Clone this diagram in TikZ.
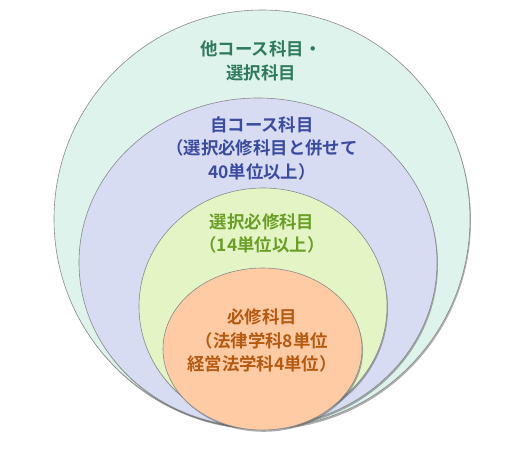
\documentclass[tikz,border=0pt]{standalone}
\usepackage{fontspec}
\setmainfont{Noto Sans CJK JP}[BoldFont={Noto Sans CJK JP Bold}]
\usetikzlibrary{shadows}
\definecolor{fillA}{HTML}{DDF3EC}
\definecolor{fillB}{HTML}{D7DCF2}
\definecolor{fillC}{HTML}{E3F5C5}
\definecolor{fillD}{HTML}{FFCBA4}
\definecolor{txtA}{HTML}{2E7B5C}
\definecolor{txtB}{HTML}{3B4CA0}
\definecolor{txtC}{HTML}{6A9E26}
\definecolor{txtD}{HTML}{B65A12}
\definecolor{edge}{HTML}{8A8A8A}
\tikzset{
  ring/.style={draw=edge, line width=0.6pt, drop shadow={shadow xshift=1pt, shadow yshift=-1.8pt, opacity=0.45, fill=black!70}},
  lbl/.style={font=\fontsize{17.4}{23.5}\selectfont\bfseries, align=center, inner sep=0pt}
}
\begin{document}
\begin{tikzpicture}[x=1pt,y=-1pt]
\useasboundingbox (0,0) rectangle (524,462);
\path[ring, fill=fillA] (262,219) ellipse [x radius=208, y radius=209];
\path[ring, fill=fillB] (258,262.5) ellipse [x radius=179, y radius=164.5];
\path[ring, fill=fillC] (263,306.5) ellipse [x radius=124, y radius=118.5];
\path[ring, fill=fillD] (262.5,349) ellipse [x radius=99.5, y radius=81];
\node[lbl, text=txtA] (a) at (261,61) {他コース科目・\\選択科目};
\node[lbl, text=txtB] (b) at (262,148) {自コース科目\\（選択必修科目と併せて\\40単位以上）};
\node[lbl, text=txtC] (c) at (262,233.5) {選択必修科目\\（14単位以上）};
\node[lbl, text=txtD] (d) at (262,340.5) {必修科目\\（法律学科8単位\\経営法学科4単位）};
\end{tikzpicture}
\end{document}
